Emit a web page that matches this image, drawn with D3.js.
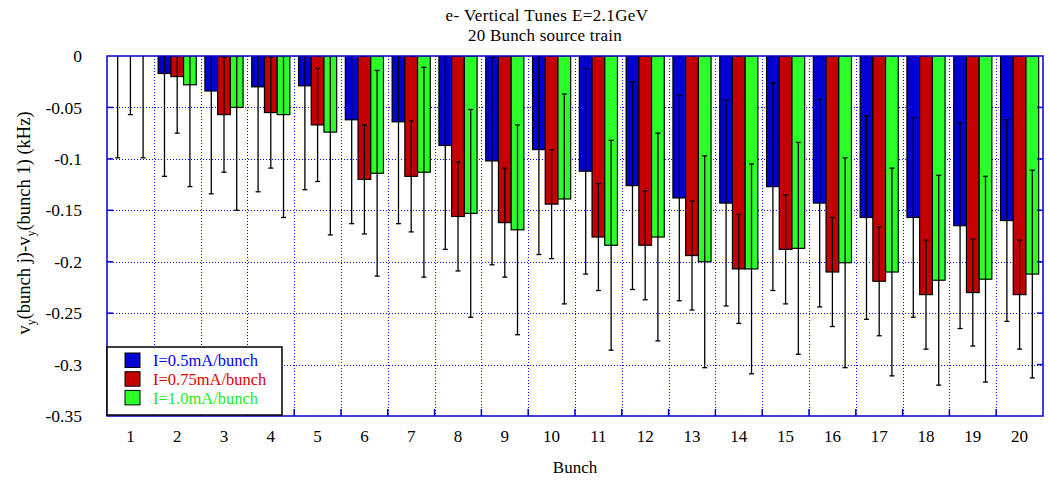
<!DOCTYPE html>
<html>
<head>
<meta charset="utf-8">
<style>
html, body {
    margin: 0;
    padding: 0;
    background: #fff;
    overflow: hidden;
}
text {
    font-family: "Liberation Serif", "Times New Roman", serif;
}
</style>
</head>
<body>
<script src="https://cdn.jsdelivr.net/npm/d3@7"></script>
<script>
const bunches = d3.range(1, 21).map(String);
const seriesNames = ["I=0.5mA/bunch", "I=0.75mA/bunch", "I=1.0mA/bunch"];
const seriesColors = ["#0000d2", "#c40000", "#2aff2a"];
const labelColors = ["#0000ff", "#e00000", "#22ee22"];

const blueVals = [0, -0.017, -0.034, -0.030, -0.029, -0.062, -0.064, -0.087, -0.102, -0.091,
                  -0.112, -0.126, -0.138, -0.143, -0.127, -0.143, -0.157, -0.157, -0.165, -0.160];
const blueErr = [0.099, 0.100, 0.100, 0.102, 0.101, 0.101, 0.099, 0.101, 0.101, 0.102,
                 0.100, 0.101, 0.100, 0.100, 0.101, 0.101, 0.099, 0.097, 0.100, 0.098];
const redVals = [0, -0.020, -0.057, -0.055, -0.067, -0.120, -0.117, -0.156, -0.162, -0.144,
                 -0.176, -0.184, -0.194, -0.207, -0.188, -0.210, -0.219, -0.232, -0.230, -0.232];
const redErr = [0.057, 0.055, 0.056, 0.054, 0.055, 0.053, 0.054, 0.053, 0.053, 0.053,
                0.052, 0.053, 0.053, 0.053, 0.053, 0.053, 0.053, 0.053, 0.052, 0.053];
const greenVals = [0, -0.028, -0.050, -0.057, -0.074, -0.114, -0.113, -0.153, -0.169, -0.139,
                   -0.184, -0.176, -0.200, -0.207, -0.187, -0.201, -0.210, -0.218, -0.217, -0.212];
const greenErr = [0.099, 0.099, 0.100, 0.100, 0.100, 0.100, 0.102, 0.101, 0.102, 0.102,
                  0.102, 0.101, 0.103, 0.102, 0.103, 0.102, 0.101, 0.102, 0.100, 0.101];
const yTicks = [0, -0.05, -0.1, -0.15, -0.2, -0.25, -0.3, -0.35];

const [width, height] = [1048, 483];
const margin = {top: 56, right: 5, bottom: 67, left: 107};

const values = [blueVals, redVals, greenVals];
const errors = [blueErr, redErr, greenErr];

const rows = [];
bunches.forEach((b, i) => {
    seriesNames.forEach((s, k) => {
        rows.push({bunch: b, series: k, value: values[k][i], err: errors[k][i]});
    });
});

const svg = d3.select("body").append("svg")
    .attr("width", width)
    .attr("height", height);

const x = d3.scaleBand()
    .domain(bunches)
    .range([margin.left, width - margin.right]);

const x1 = d3.scaleBand()
    .domain([0, 1, 2])
    .range([0, x.bandwidth()])
    .paddingOuter(0.34);

const y = d3.scaleLinear()
    .domain([0, -0.35])
    .range([margin.top, height - margin.bottom]);

const plotL = margin.left, plotR = width - margin.right;
const plotT = margin.top, plotB = height - margin.bottom;

svg.append("clipPath").attr("id", "plot")
    .append("rect")
    .attr("x", plotL).attr("y", plotT)
    .attr("width", plotR - plotL).attr("height", plotB - plotT);

// grid
const grid = svg.append("g")
    .attr("stroke", "#0000ff")
    .attr("stroke-width", 1)
    .attr("stroke-dasharray", "1,2");

grid.selectAll("line.h")
    .data(yTicks.slice(1, -1))
    .join("line")
        .attr("x1", plotL).attr("x2", plotR)
        .attr("y1", d => Math.round(y(d)) + 0.5)
        .attr("y2", d => Math.round(y(d)) + 0.5);

grid.selectAll("line.v")
    .data(bunches.slice(1))
    .join("line")
        .attr("x1", d => Math.round(x(d)) + 0.5)
        .attr("x2", d => Math.round(x(d)) + 0.5)
        .attr("y1", plotT).attr("y2", plotB);

// bars
const plot = svg.append("g").attr("clip-path", "url(#plot)");

plot.selectAll("rect.bar")
    .data(rows)
    .join("rect")
        .attr("class", "bar")
        .attr("x", d => x(d.bunch) + x1(d.series))
        .attr("y", d => y(0))
        .attr("width", x1.bandwidth())
        .attr("height", d => y(d.value) - y(0))
        .attr("fill", d => seriesColors[d.series])
        .attr("stroke", "#000")
        .attr("stroke-width", 1.2);

// error bars
const eb = plot.selectAll("g.err")
    .data(rows)
    .join("g")
        .attr("class", "err")
        .attr("stroke", "#000")
        .attr("stroke-width", 1.3);

const cx = d => x(d.bunch) + x1(d.series) + x1.bandwidth() / 2;

eb.append("line")
    .attr("x1", cx).attr("x2", cx)
    .attr("y1", d => y(d.value + d.err))
    .attr("y2", d => y(d.value - d.err));

eb.append("line")
    .attr("x1", d => cx(d) - 2.5).attr("x2", d => cx(d) + 2.5)
    .attr("y1", d => y(d.value + d.err))
    .attr("y2", d => y(d.value + d.err));

eb.append("line")
    .attr("x1", d => cx(d) - 2.5).attr("x2", d => cx(d) + 2.5)
    .attr("y1", d => y(d.value - d.err))
    .attr("y2", d => y(d.value - d.err));

// frame and inward ticks
const frame = svg.append("g").attr("stroke", "#0000cc").attr("stroke-width", 1.5);
frame.append("rect")
    .attr("x", plotL).attr("y", plotT)
    .attr("width", plotR - plotL).attr("height", plotB - plotT)
    .attr("fill", "none");

frame.selectAll("line.yt")
    .data(yTicks.slice(1, -1))
    .join("line")
        .attr("x1", plotR - 6).attr("x2", plotR)
        .attr("y1", d => y(d)).attr("y2", d => y(d));

frame.selectAll("line.yl")
    .data(yTicks.slice(1, -1))
    .join("line")
        .attr("x1", plotL).attr("x2", plotL + 6)
        .attr("y1", d => y(d)).attr("y2", d => y(d));

frame.selectAll("line.xt")
    .data(bunches.slice(1))
    .join("line")
        .attr("x1", d => x(d)).attr("x2", d => x(d))
        .attr("y1", plotB - 7).attr("y2", plotB);

// axis labels
svg.append("g")
    .selectAll("text")
    .data(yTicks)
    .join("text")
        .attr("x", 82)
        .attr("y", d => y(d))
        .attr("dy", "0.35em")
        .attr("text-anchor", "end")
        .attr("font-size", 17.5)
        .text(d => String(d));

svg.append("g")
    .selectAll("text")
    .data(bunches)
    .join("text")
        .attr("x", d => x(d) + x.bandwidth() / 2)
        .attr("y", 436)
        .attr("dy", "0.35em")
        .attr("text-anchor", "middle")
        .attr("font-size", 17)
        .text(d => d);

svg.append("text")
    .attr("x", 575)
    .attr("y", 467)
    .attr("dy", "0.35em")
    .attr("text-anchor", "middle")
    .attr("font-size", 17)
    .text("Bunch");

const yl = svg.append("text")
    .attr("transform", "translate(30,223) rotate(-90)")
    .attr("text-anchor", "middle")
    .attr("font-size", 18.5);
yl.append("tspan").text("v");
yl.append("tspan").attr("font-size", 12).attr("dy", 5).text("y");
yl.append("tspan").attr("dy", -5).text("(bunch j)-v");
yl.append("tspan").attr("font-size", 12).attr("dy", 5).text("y");
yl.append("tspan").attr("dy", -5).text("(bunch 1) (kHz)");

// title
svg.append("text")
    .attr("x", 547).attr("y", 15)
    .attr("dy", "0.35em")
    .attr("text-anchor", "middle")
    .attr("font-size", 17)
    .attr("letter-spacing", 0.4)
    .text("e- Vertical Tunes E=2.1GeV");
svg.append("text")
    .attr("x", 545).attr("y", 35)
    .attr("dy", "0.35em")
    .attr("text-anchor", "middle")
    .attr("font-size", 17)
    .attr("letter-spacing", 0.2)
    .text("20 Bunch source train");

// legend
const legend = svg.append("g");
legend.append("rect")
    .attr("x", 107).attr("y", 347)
    .attr("width", 175).attr("height", 68)
    .attr("fill", "#fff")
    .attr("stroke", "#000")
    .attr("stroke-width", 1.5);

const li = legend.selectAll("g.item")
    .data(seriesNames)
    .join("g")
        .attr("transform", (d, i) => `translate(125,${353 + i * 18.7})`);

li.append("rect")
    .attr("width", 15).attr("height", 14.5)
    .attr("fill", (d, i) => seriesColors[i])
    .attr("stroke", "#000")
    .attr("stroke-width", 1);

li.append("text")
    .attr("x", 28).attr("y", 7.5)
    .attr("dy", "0.35em")
    .attr("font-size", 16.5)
    .attr("fill", (d, i) => labelColors[i])
    .text(d => d);
</script>
</body>
</html>
